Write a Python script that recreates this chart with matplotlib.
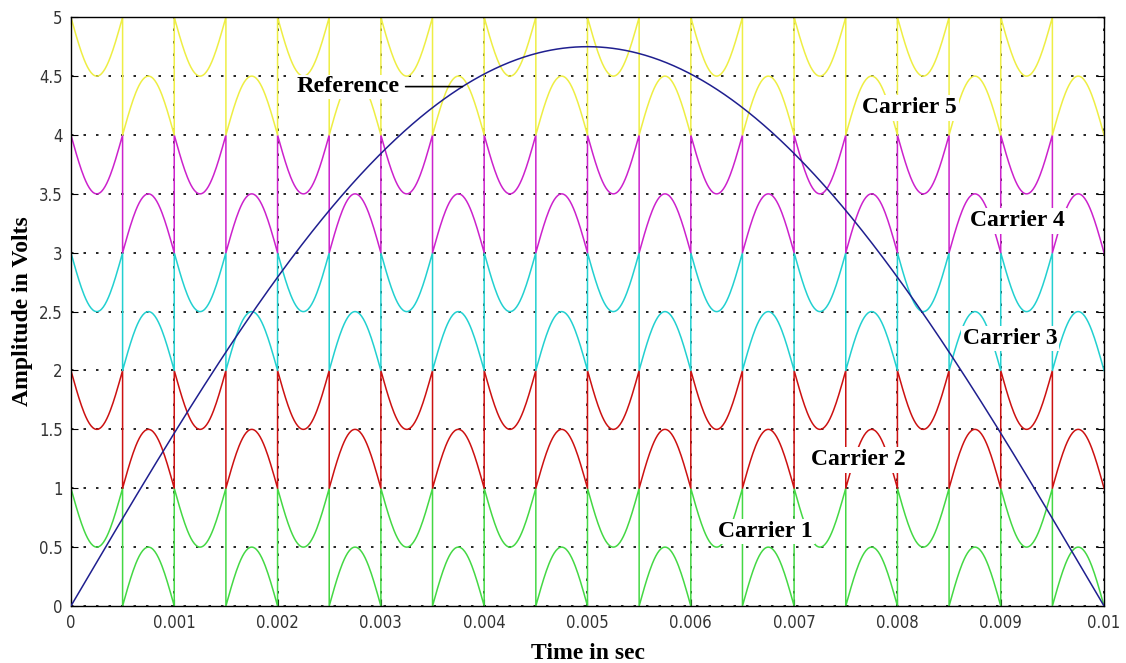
import numpy as np
import matplotlib
matplotlib.use("Agg")
import matplotlib.pyplot as plt

# ---- data ----
carrier_names = ["Carrier 1", "Carrier 2", "Carrier 3", "Carrier 4", "Carrier 5"]
carrier_tops = [1, 2, 3, 4, 5]          # upper level of each carrier band (V)
carrier_colors = ["#44d844", "#cc1111", "#22d0d0", "#cc22cc", "#eeee44"]
carrier_period = 0.001                   # s
carrier_dip = 0.5                        # V
ref_amplitude = 4.75                     # V
ref_frequency = 50.0                     # Hz
t_end = 0.01
x_ticks = [0, 0.001, 0.002, 0.003, 0.004, 0.005, 0.006, 0.007, 0.008, 0.009, 0.01]
x_tick_labels = ["0", "0.001", "0.002", "0.003", "0.004", "0.005", "0.006",
                 "0.007", "0.008", "0.009", "0.01"]
y_ticks = [0, 0.5, 1, 1.5, 2, 2.5, 3, 3.5, 4, 4.5, 5]
y_tick_labels = ["0", "0.5", "1", "1.5", "2", "2.5", "3", "3.5", "4", "4.5", "5"]
label_pos = {"Carrier 5": (0.00812, 4.23), "Carrier 4": (0.00916, 3.27),
             "Carrier 3": (0.00909, 2.27), "Carrier 2": (0.00762, 1.24),
             "Carrier 1": (0.00672, 0.63)}


def carrier_wave(top):
    half = carrier_period / 2
    n_half = int(round(t_end / half))
    ts, ys = [], []
    for i in range(n_half):
        t = np.linspace(i * half, (i + 1) * half, 60)
        s = np.sin(np.pi * (t - i * half) / half)
        if i % 2 == 0:
            y = top - carrier_dip * s
        else:
            y = (top - 1) + carrier_dip * s
        ts.append(t)
        ys.append(y)
    return np.concatenate(ts), np.concatenate(ys)


fig = plt.figure(figsize=(11.26, 6.63), dpi=100)
ax = fig.add_axes([0.063, 0.086, 0.9175, 0.888])

for name, top, col in zip(carrier_names, carrier_tops, carrier_colors):
    t, y = carrier_wave(top)
    ax.plot(t, y, color=col, lw=1.1, zorder=2)

tr = np.linspace(0, t_end, 1000)
ax.plot(tr, ref_amplitude * np.sin(2 * np.pi * ref_frequency * tr),
        color="#1f1f8f", lw=1.1, zorder=3)

ax.set_xlim(0, t_end)
ax.set_ylim(0, 5)
ax.set_xticks(x_ticks)
ax.set_xticklabels(x_tick_labels)
ax.set_yticks(y_ticks)
ax.set_yticklabels(y_tick_labels)
ax.tick_params(direction="in", top=True, right=True, length=5,
               labelsize=12, labelcolor="#333333", pad=6)
for lab in ax.get_xticklabels() + ax.get_yticklabels():
    lab.set_family("DejaVu Sans")
    lab.set_stretch("condensed")
ax.grid(True, color="black", linestyle=(0, (1.5, 6)), lw=1.2, zorder=4)
for sp in ax.spines.values():
    sp.set_linewidth(1.0)

ax.set_xlabel("Time in sec", family="Liberation Serif", fontweight="bold",
              fontsize=17, labelpad=8)
ax.set_ylabel("Amplitude in Volts", family="Liberation Serif", fontweight="bold",
              fontsize=17, labelpad=4)

for name in carrier_names:
    x, y = label_pos[name]
    ax.text(x, y, name, family="Liberation Serif", fontweight="bold", fontsize=17,
            ha="center", va="center", zorder=6,
            bbox=dict(facecolor="white", edgecolor="none", pad=1.5))

ref_t = 0.00379
ref_y = ref_amplitude * np.sin(2 * np.pi * ref_frequency * ref_t)
ax.annotate("Reference", xy=(ref_t, ref_y), xytext=(0.003185, ref_y),
            family="Liberation Serif", fontweight="bold", fontsize=17.5,
            ha="right", va="center", zorder=6,
            bbox=dict(facecolor="white", edgecolor="none", pad=1),
            arrowprops=dict(arrowstyle="-", color="black", lw=1.2,
                            shrinkA=3, shrinkB=0))

fig.savefig("out.png", dpi=100, facecolor="white")
